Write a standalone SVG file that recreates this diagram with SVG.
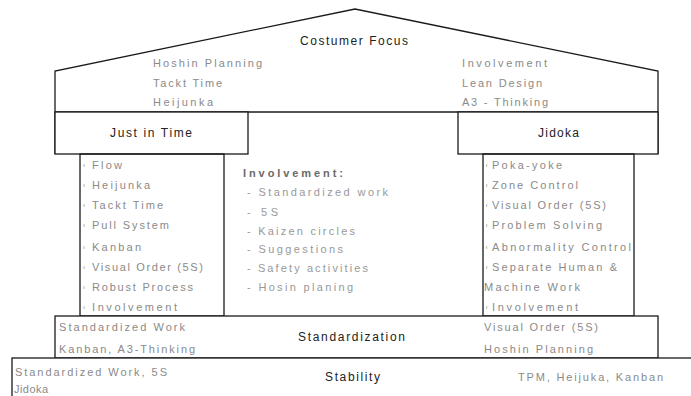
<svg xmlns="http://www.w3.org/2000/svg" width="691" height="396" viewBox="0 0 691 396">
<style>
.ln{fill:none;stroke:#1a1a1a;stroke-width:1.3}
.bx{fill:#fff;stroke:#1a1a1a;stroke-width:1.3}
.h{font-family:"Liberation Sans",Arial,sans-serif;font-size:12px;fill:#222}
.i{font-family:"Liberation Sans",Arial,sans-serif;font-size:11px;fill:#8a8a8a}
.m{font-family:"Liberation Sans",Arial,sans-serif;font-size:11px;fill:#999}
.mb{font-family:"Liberation Sans",Arial,sans-serif;font-size:11px;font-weight:bold;fill:#6a6a6a}
.d{fill:#c4c4c4}
</style>
<rect width="691" height="396" fill="#fff"/>

<g id="roof">
  <polyline class="ln" points="55,154 55,71 355,9 658,71 658,154"/>
  <line class="ln" x1="55" y1="112" x2="658" y2="112"/>
  <text class="h" x="300" y="45" textLength="108" lengthAdjust="spacing">Costumer Focus</text>
  <text class="i" x="153" y="67" textLength="109" lengthAdjust="spacing">Hoshin Planning</text>
  <text class="i" x="153" y="87" textLength="69" lengthAdjust="spacing">Tackt Time</text>
  <text class="i" x="153" y="106" textLength="60" lengthAdjust="spacing">Heijunka</text>
  <text class="i" x="462" y="67" textLength="85" lengthAdjust="spacing">Involvement</text>
  <text class="i" x="462" y="87" textLength="80" lengthAdjust="spacing">Lean Design</text>
  <text class="i" x="462" y="106" textLength="86" lengthAdjust="spacing">A3 - Thinking</text>
</g>

<g id="jit">
  <rect class="bx" x="55" y="112" width="193" height="42"/>
  <text class="h" x="110" y="137" textLength="82" lengthAdjust="spacing">Just in Time</text>
</g>

<g id="jidoka">
  <rect class="bx" x="458" y="112" width="200" height="42"/>
  <text class="h" x="538" y="137" textLength="41" lengthAdjust="spacing">Jidoka</text>
</g>

<g id="pillar-left">
  <rect class="ln" x="80" y="154" width="144" height="162"/>
  <rect class="d" x="83.5" y="164" width="1.2" height="3"/>
  <rect class="d" x="83.5" y="184" width="1.2" height="3"/>
  <rect class="d" x="83.5" y="204" width="1.2" height="3"/>
  <rect class="d" x="83.5" y="224" width="1.2" height="3"/>
  <rect class="d" x="83.5" y="246" width="1.2" height="3"/>
  <rect class="d" x="83.5" y="266" width="1.2" height="3"/>
  <rect class="d" x="83.5" y="286" width="1.2" height="3"/>
  <rect class="d" x="83.5" y="306" width="1.2" height="3"/>
  <text class="i" x="92" y="169" textLength="30" lengthAdjust="spacing">Flow</text>
  <text class="i" x="92" y="189" textLength="58" lengthAdjust="spacing">Heijunka</text>
  <text class="i" x="92" y="209" textLength="71" lengthAdjust="spacing">Tackt Time</text>
  <text class="i" x="92" y="229" textLength="77" lengthAdjust="spacing">Pull System</text>
  <text class="i" x="92" y="251" textLength="49" lengthAdjust="spacing">Kanban</text>
  <text class="i" x="92" y="271" textLength="111" lengthAdjust="spacing">Visual Order (5S)</text>
  <text class="i" x="92" y="291" textLength="101" lengthAdjust="spacing">Robust Process</text>
  <text class="i" x="92" y="311" textLength="85" lengthAdjust="spacing">Involvement</text>
</g>

<g id="center">
  <text class="mb" x="243" y="177" textLength="100" lengthAdjust="spacing">Involvement:</text>
  <text class="m" x="247" y="196" textLength="141" lengthAdjust="spacing">- Standardized work</text>
  <text class="m" x="247" y="216" textLength="31" lengthAdjust="spacing">- 5S</text>
  <text class="m" x="247" y="235" textLength="108" lengthAdjust="spacing">- Kaizen circles</text>
  <text class="m" x="247" y="253" textLength="96" lengthAdjust="spacing">- Suggestions</text>
  <text class="m" x="247" y="272" textLength="121" lengthAdjust="spacing">- Safety activities</text>
  <text class="m" x="247" y="291" textLength="106" lengthAdjust="spacing">- Hosin planing</text>
</g>

<g id="pillar-right">
  <rect class="ln" x="483" y="154" width="151" height="162"/>
  <rect class="d" x="486" y="164" width="1.2" height="3"/>
  <rect class="d" x="486" y="184" width="1.2" height="3"/>
  <rect class="d" x="486" y="204" width="1.2" height="3"/>
  <rect class="d" x="486" y="224" width="1.2" height="3"/>
  <rect class="d" x="486" y="246" width="1.2" height="3"/>
  <rect class="d" x="486" y="266" width="1.2" height="3"/>
  <rect class="d" x="486" y="306" width="1.2" height="3"/>
  <text class="i" x="492" y="169" textLength="70" lengthAdjust="spacing">Poka-yoke</text>
  <text class="i" x="492" y="189" textLength="86" lengthAdjust="spacing">Zone Control</text>
  <text class="i" x="492" y="209" textLength="114" lengthAdjust="spacing">Visual Order (5S)</text>
  <text class="i" x="492" y="229" textLength="110" lengthAdjust="spacing">Problem Solving</text>
  <text class="i" x="492" y="251" textLength="139" lengthAdjust="spacing">Abnormality Control</text>
  <text class="i" x="492" y="271" textLength="125" lengthAdjust="spacing">Separate Human &amp;</text>
  <text class="i" x="484" y="291" textLength="96" lengthAdjust="spacing">Machine Work</text>
  <text class="i" x="492" y="311" textLength="86" lengthAdjust="spacing">Involvement</text>
</g>

<g id="standardization">
  <rect class="bx" x="55" y="316" width="603" height="42"/>
  <text class="i" x="59" y="331" textLength="126" lengthAdjust="spacing">Standardized Work</text>
  <text class="i" x="59" y="353" textLength="136" lengthAdjust="spacing">Kanban, A3-Thinking</text>
  <text class="h" x="298" y="341" textLength="107" lengthAdjust="spacing">Standardization</text>
  <text class="i" x="484" y="331" textLength="114" lengthAdjust="spacing">Visual Order (5S)</text>
  <text class="i" x="484" y="353" textLength="109" lengthAdjust="spacing">Hoshin Planning</text>
</g>

<g id="stability">
  <rect class="bx" x="12" y="358" width="700" height="60"/>
  <text class="i" x="15" y="376" textLength="152" lengthAdjust="spacing">Standardized Work, 5S</text>
  <text class="i" x="14" y="393" textLength="34" lengthAdjust="spacing">Jidoka</text>
  <text class="h" x="325" y="381" textLength="55" lengthAdjust="spacing">Stability</text>
  <text class="i" x="518" y="381" textLength="145" lengthAdjust="spacing">TPM, Heijuka, Kanban</text>
</g>
</svg>
